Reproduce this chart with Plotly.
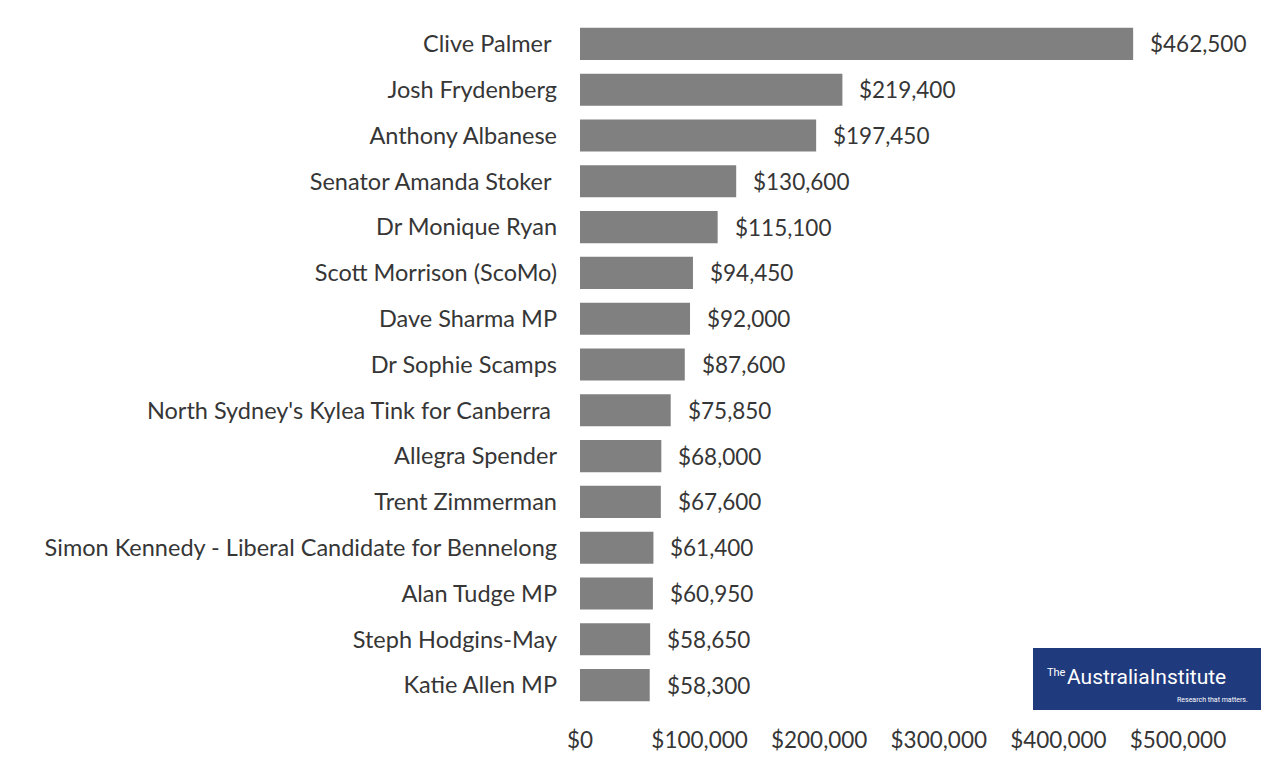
import plotly.graph_objects as go

names = [
    "Clive Palmer\u00a0", "Josh Frydenberg", "Anthony Albanese", "Senator Amanda Stoker\u00a0",
    "Dr Monique Ryan", "Scott Morrison (ScoMo)", "Dave Sharma MP", "Dr Sophie Scamps",
    "North Sydney's Kylea Tink for Canberra\u00a0", "Allegra Spender", "Trent Zimmerman",
    "Simon Kennedy - Liberal Candidate for Bennelong", "Alan Tudge MP",
    "Steph Hodgins-May", "Katie Allen MP",
]
values = [462500, 219400, 197450, 130600, 115100, 94450, 92000, 87600,
          75850, 68000, 67600, 61400, 60950, 58650, 58300]
tick_vals = [0, 100000, 200000, 300000, 400000, 500000]
tick_text = ["$0", "$100,000", "$200,000", "$300,000", "$400,000", "$500,000"]

FONT = "Lato"
TXT = "#363636"
NAME_SIZE = 23.5
NUM_SIZE = 22.5

fig = go.Figure()
fig.add_trace(go.Bar(
    x=values, y=names, orientation="h",
    marker=dict(color="#808080", line=dict(width=0)),
    hoverinfo="skip",
))

for n, v in zip(names, values):
    fig.add_annotation(x=v, y=n, text=f"${v:,}", showarrow=False,
                       xanchor="left", xshift=15,
                       font=dict(family=FONT, size=NUM_SIZE, color=TXT))

# logo
px = lambda x: (x - 580) / 598
py = lambda y: (708 - y) / 687
fig.add_shape(type="rect", xref="paper", yref="paper",
              x0=px(1033), x1=px(1261), y0=py(710), y1=py(648),
              fillcolor="#1f3a7d", line=dict(width=0), layer="above")
fig.add_annotation(xref="paper", yref="paper", x=px(1045), y=py(672),
                   xanchor="left", yanchor="middle", text="The",
                   showarrow=False, font=dict(family="Roboto", size=11, color="white"))
fig.add_annotation(xref="paper", yref="paper", x=px(1065), y=py(677),
                   xanchor="left", yanchor="middle",
                   text="AustraliaInstitute",
                   showarrow=False, font=dict(family="Roboto", size=21, color="white"))
fig.add_annotation(xref="paper", yref="paper", x=px(1250), y=py(700),
                   text="Research that matters.", xanchor="right", yanchor="middle",
                   showarrow=False, font=dict(family="Roboto", size=7, color="white"))

fig.update_layout(
    width=1280, height=767,
    margin=dict(l=580, r=102, t=21, b=59),
    paper_bgcolor="white", plot_bgcolor="white",
    bargap=0.3, showlegend=False,
    font=dict(family=FONT, size=NAME_SIZE, color=TXT),
    xaxis=dict(range=[0, 500000], tickvals=tick_vals, ticktext=tick_text,
               showgrid=False, zeroline=False, showline=False,
               ticks="outside", ticklen=12, tickcolor="rgba(0,0,0,0)",
               tickfont=dict(family=FONT, size=NUM_SIZE, color=TXT)),
    yaxis=dict(autorange="reversed", showgrid=False, zeroline=False, showline=False,
               ticklabelstandoff=22,
               tickfont=dict(family=FONT, size=NAME_SIZE, color=TXT)),
)

fig.write_html("out.html")
